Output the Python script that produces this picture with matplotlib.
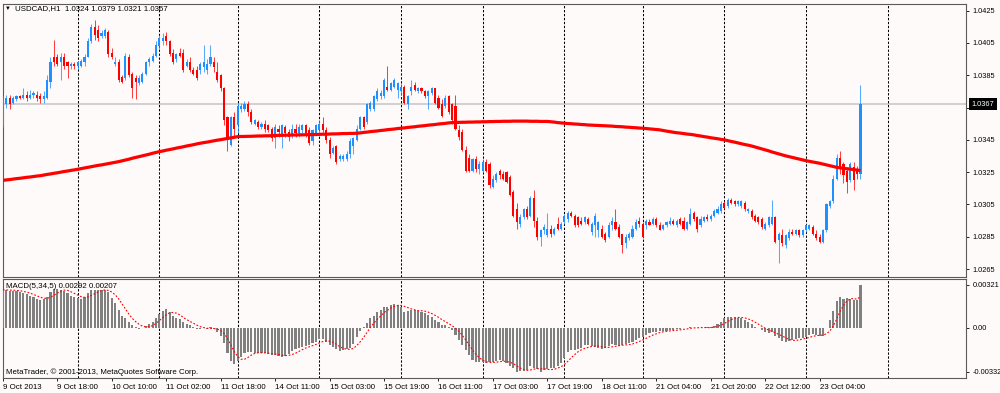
import matplotlib
matplotlib.use("Agg")
import matplotlib.pyplot as plt
import numpy as np
import pandas as pd

plt.rcParams['font.family'] = ['Liberation Sans', 'DejaVu Sans']

# ---------------- data ----------------
symbol_title = "USDCAD,H1  1.0324 1.0379 1.0321 1.0367"
macd_title = "MACD(5,34,5) 0.00292 0.00207"
copyright_text = "MetaTrader, \u00a9 2001-2013, MetaQuotes Software Corp."

date_labels = ["9 Oct 2013", "9 Oct 18:00", "10 Oct 10:00", "11 Oct 02:00", "11 Oct 18:00",
               "14 Oct 11:00", "15 Oct 03:00", "15 Oct 19:00", "16 Oct 11:00", "17 Oct 03:00",
               "17 Oct 19:00", "18 Oct 11:00", "21 Oct 04:00", "21 Oct 20:00", "22 Oct 12:00",
               "23 Oct 04:00"]
bars_per_label = 16
day_start_bars = [22, 46, 69, 93, 117, 141, 165, 188, 212, 236, 260]
price_ticks = [1.0425, 1.0405, 1.0385, 1.0365, 1.0345, 1.0325, 1.0305, 1.0285, 1.0265]
current_price = 1.0367
macd_ticks = [0.00321, 0.0, -0.00332]
macd_tick_labels = ["0.00321", "0.00", "-0.00332"]

opens = [
    1.0354, 1.0367, 1.0371, 1.0368, 1.0370, 1.0372, 1.0371, 1.0373, 1.0371, 1.0373,
    1.0373, 1.0372, 1.0370, 1.0371, 1.0381, 1.0396, 1.0396, 1.0393, 1.0396, 1.0393,
    1.0391, 1.0392, 1.0391, 1.0391, 1.0393, 1.0396, 1.0406, 1.0415, 1.0413, 1.0409,
    1.0409, 1.0412, 1.0399, 1.0392, 1.0393, 1.0384, 1.0383, 1.0396, 1.0386, 1.0383,
    1.0380, 1.0381, 1.0386, 1.0393, 1.0394, 1.0397, 1.0403, 1.0406, 1.0409, 1.0406,
    1.0399, 1.0395, 1.0399, 1.0399, 1.0391, 1.0393, 1.0388, 1.0388, 1.0388, 1.0390,
    1.0388, 1.0392, 1.0393, 1.0387, 1.0385, 1.0377, 1.0359, 1.0342, 1.0359, 1.0354,
    1.0364, 1.0364, 1.0367, 1.0362, 1.0355, 1.0356, 1.0353, 1.0355, 1.0354, 1.0352,
    1.0346, 1.0352, 1.0347, 1.0353, 1.0350, 1.0348, 1.0352, 1.0349, 1.0351, 1.0354,
    1.0351, 1.0344, 1.0349, 1.0351, 1.0355, 1.0351, 1.0345, 1.0337, 1.0341, 1.0333,
    1.0333, 1.0333, 1.0336, 1.0341, 1.0345, 1.0352, 1.0359, 1.0356, 1.0364, 1.0364,
    1.0370, 1.0372, 1.0372, 1.0378, 1.0376, 1.0378, 1.0376, 1.0375, 1.0378, 1.0367,
    1.0375, 1.0379, 1.0375, 1.0377, 1.0375, 1.0372, 1.0374, 1.0377, 1.0371, 1.0367,
    1.0366, 1.0372, 1.0367, 1.0366, 1.0351, 1.0350, 1.0339, 1.0334, 1.0326, 1.0333,
    1.0327, 1.0326, 1.0331, 1.0330, 1.0316, 1.0320, 1.0326, 1.0324, 1.0325, 1.0322,
    1.0313, 1.0302, 1.0293, 1.0297, 1.0302, 1.0298, 1.0309, 1.0295, 1.0285, 1.0289,
    1.0286, 1.0290, 1.0287, 1.0293, 1.0290, 1.0294, 1.0296, 1.0300, 1.0298, 1.0297,
    1.0295, 1.0294, 1.0296, 1.0288, 1.0292, 1.0289, 1.0290, 1.0287, 1.0285, 1.0292,
    1.0294, 1.0291, 1.0287, 1.0281, 1.0284, 1.0285, 1.0290, 1.0295, 1.0293, 1.0292,
    1.0294, 1.0293, 1.0296, 1.0292, 1.0290, 1.0292, 1.0293, 1.0295, 1.0292, 1.0296,
    1.0295, 1.0290, 1.0293, 1.0300, 1.0297, 1.0292, 1.0295, 1.0297, 1.0296, 1.0298,
    1.0300, 1.0301, 1.0306, 1.0304, 1.0308, 1.0307, 1.0305, 1.0304, 1.0306, 1.0301,
    1.0301, 1.0298, 1.0297, 1.0296, 1.0290, 1.0292, 1.0293, 1.0297, 1.0283, 1.0286,
    1.0280, 1.0284, 1.0288, 1.0287, 1.0289, 1.0286, 1.0289, 1.0290, 1.0291, 1.0287,
    1.0285, 1.0282, 1.0289, 1.0304, 1.0307, 1.0321, 1.0334, 1.0330, 1.0326, 1.0320,
    1.0328, 1.0326, 1.0324]

highs = [
    1.0372, 1.0373, 1.0373, 1.0372, 1.0373, 1.0373, 1.0377, 1.0375, 1.0376, 1.0375,
    1.0375, 1.0374, 1.0375, 1.0385, 1.0396, 1.0407, 1.0398, 1.0399, 1.0399, 1.0394,
    1.0393, 1.0393, 1.0394, 1.0395, 1.0398, 1.0408, 1.0417, 1.0419, 1.0416, 1.0413,
    1.0414, 1.0413, 1.0402, 1.0396, 1.0395, 1.0385, 1.0399, 1.0398, 1.0387, 1.0385,
    1.0385, 1.0387, 1.0394, 1.0396, 1.0399, 1.0406, 1.0410, 1.0411, 1.0412, 1.0407,
    1.0401, 1.0399, 1.0402, 1.0401, 1.0395, 1.0396, 1.0390, 1.0391, 1.0393, 1.0404,
    1.0395, 1.0404, 1.0396, 1.0393, 1.0386, 1.0378, 1.0360, 1.0360, 1.0362, 1.0368,
    1.0368, 1.0369, 1.0369, 1.0364, 1.0358, 1.0357, 1.0356, 1.0357, 1.0355, 1.0353,
    1.0355, 1.0354, 1.0355, 1.0354, 1.0352, 1.0355, 1.0355, 1.0355, 1.0355, 1.0355,
    1.0353, 1.0352, 1.0355, 1.0357, 1.0359, 1.0353, 1.0347, 1.0341, 1.0342, 1.0336,
    1.0336, 1.0338, 1.0346, 1.0347, 1.0354, 1.0360, 1.0360, 1.0368, 1.0369, 1.0373,
    1.0377, 1.0376, 1.0383, 1.0391, 1.0381, 1.0383, 1.0381, 1.0380, 1.0379, 1.0373,
    1.0382, 1.0381, 1.0378, 1.0378, 1.0376, 1.0376, 1.0378, 1.0377, 1.0373, 1.0370,
    1.0373, 1.0373, 1.0368, 1.0373, 1.0354, 1.0352, 1.0341, 1.0336, 1.0334, 1.0335,
    1.0332, 1.0333, 1.0333, 1.0331, 1.0323, 1.0325, 1.0327, 1.0326, 1.0326, 1.0323,
    1.0314, 1.0306, 1.0299, 1.0303, 1.0304, 1.0310, 1.0314, 1.0297, 1.0290, 1.0293,
    1.0300, 1.0292, 1.0291, 1.0297, 1.0294, 1.0299, 1.0301, 1.0301, 1.0299, 1.0298,
    1.0297, 1.0298, 1.0297, 1.0294, 1.0300, 1.0295, 1.0292, 1.0288, 1.0294, 1.0297,
    1.0302, 1.0293, 1.0287, 1.0287, 1.0288, 1.0292, 1.0296, 1.0297, 1.0294, 1.0296,
    1.0296, 1.0297, 1.0297, 1.0294, 1.0293, 1.0295, 1.0297, 1.0296, 1.0296, 1.0297,
    1.0297, 1.0295, 1.0303, 1.0301, 1.0298, 1.0298, 1.0298, 1.0299, 1.0299, 1.0302,
    1.0304, 1.0307, 1.0307, 1.0309, 1.0309, 1.0308, 1.0308, 1.0308, 1.0307, 1.0303,
    1.0302, 1.0299, 1.0298, 1.0297, 1.0294, 1.0298, 1.0308, 1.0298, 1.0288, 1.0290,
    1.0287, 1.0290, 1.0290, 1.0290, 1.0290, 1.0290, 1.0293, 1.0293, 1.0292, 1.0289,
    1.0287, 1.0290, 1.0306, 1.0308, 1.0323, 1.0336, 1.0338, 1.0331, 1.0328, 1.0331,
    1.0331, 1.0329, 1.0379]

lows = [
    1.0353, 1.0365, 1.0364, 1.0367, 1.0369, 1.0370, 1.0370, 1.0369, 1.0370, 1.0371,
    1.0369, 1.0368, 1.0368, 1.0370, 1.0377, 1.0391, 1.0391, 1.0382, 1.0389, 1.0383,
    1.0389, 1.0389, 1.0389, 1.0390, 1.0391, 1.0396, 1.0405, 1.0407, 1.0406, 1.0408,
    1.0408, 1.0396, 1.0395, 1.0391, 1.0381, 1.0380, 1.0382, 1.0384, 1.0371, 1.0370,
    1.0379, 1.0380, 1.0385, 1.0391, 1.0393, 1.0396, 1.0401, 1.0404, 1.0404, 1.0397,
    1.0392, 1.0393, 1.0396, 1.0387, 1.0390, 1.0387, 1.0385, 1.0382, 1.0386, 1.0387,
    1.0386, 1.0391, 1.0387, 1.0381, 1.0375, 1.0354, 1.0338, 1.0341, 1.0346, 1.0349,
    1.0362, 1.0363, 1.0360, 1.0355, 1.0354, 1.0352, 1.0352, 1.0350, 1.0350, 1.0344,
    1.0340, 1.0347, 1.0340, 1.0347, 1.0344, 1.0346, 1.0347, 1.0347, 1.0349, 1.0347,
    1.0342, 1.0342, 1.0348, 1.0350, 1.0350, 1.0343, 1.0334, 1.0336, 1.0330, 1.0332,
    1.0332, 1.0332, 1.0334, 1.0336, 1.0344, 1.0351, 1.0352, 1.0355, 1.0363, 1.0363,
    1.0369, 1.0370, 1.0371, 1.0375, 1.0375, 1.0377, 1.0371, 1.0373, 1.0367, 1.0364,
    1.0373, 1.0375, 1.0374, 1.0374, 1.0371, 1.0364, 1.0373, 1.0367, 1.0364, 1.0359,
    1.0365, 1.0361, 1.0355, 1.0351, 1.0345, 1.0338, 1.0325, 1.0325, 1.0325, 1.0325,
    1.0324, 1.0325, 1.0325, 1.0315, 1.0315, 1.0319, 1.0321, 1.0320, 1.0318, 1.0310,
    1.0297, 1.0290, 1.0291, 1.0296, 1.0296, 1.0297, 1.0291, 1.0283, 1.0279, 1.0287,
    1.0285, 1.0285, 1.0286, 1.0289, 1.0289, 1.0293, 1.0294, 1.0297, 1.0291, 1.0291,
    1.0292, 1.0293, 1.0292, 1.0286, 1.0285, 1.0285, 1.0284, 1.0282, 1.0284, 1.0289,
    1.0289, 1.0284, 1.0275, 1.0278, 1.0283, 1.0284, 1.0289, 1.0291, 1.0284, 1.0290,
    1.0292, 1.0292, 1.0291, 1.0289, 1.0289, 1.0291, 1.0292, 1.0292, 1.0291, 1.0292,
    1.0289, 1.0289, 1.0292, 1.0295, 1.0288, 1.0291, 1.0294, 1.0295, 1.0295, 1.0297,
    1.0299, 1.0300, 1.0302, 1.0303, 1.0305, 1.0304, 1.0304, 1.0303, 1.0301, 1.0300,
    1.0296, 1.0294, 1.0293, 1.0290, 1.0289, 1.0291, 1.0292, 1.0281, 1.0269, 1.0279,
    1.0278, 1.0283, 1.0286, 1.0286, 1.0285, 1.0285, 1.0288, 1.0289, 1.0286, 1.0283,
    1.0281, 1.0281, 1.0288, 1.0303, 1.0306, 1.0320, 1.0324, 1.0318, 1.0312, 1.0319,
    1.0314, 1.0321, 1.0321]

closes = [
    1.0370, 1.0371, 1.0367, 1.0371, 1.0372, 1.0371, 1.0373, 1.0371, 1.0373, 1.0374,
    1.0371, 1.0370, 1.0372, 1.0382, 1.0393, 1.0393, 1.0392, 1.0396, 1.0391, 1.0391,
    1.0392, 1.0391, 1.0393, 1.0394, 1.0396, 1.0406, 1.0415, 1.0410, 1.0408, 1.0411,
    1.0413, 1.0398, 1.0396, 1.0393, 1.0382, 1.0381, 1.0397, 1.0385, 1.0377, 1.0381,
    1.0383, 1.0386, 1.0393, 1.0395, 1.0397, 1.0404, 1.0408, 1.0408, 1.0406, 1.0398,
    1.0393, 1.0398, 1.0397, 1.0388, 1.0393, 1.0388, 1.0386, 1.0383, 1.0392, 1.0393,
    1.0392, 1.0396, 1.0390, 1.0382, 1.0377, 1.0357, 1.0345, 1.0359, 1.0352, 1.0366,
    1.0366, 1.0367, 1.0362, 1.0356, 1.0357, 1.0353, 1.0355, 1.0352, 1.0351, 1.0346,
    1.0353, 1.0350, 1.0354, 1.0349, 1.0347, 1.0352, 1.0349, 1.0353, 1.0354, 1.0349,
    1.0343, 1.0351, 1.0354, 1.0355, 1.0351, 1.0345, 1.0336, 1.0340, 1.0331, 1.0335,
    1.0335, 1.0336, 1.0344, 1.0346, 1.0352, 1.0359, 1.0353, 1.0367, 1.0368, 1.0372,
    1.0375, 1.0374, 1.0382, 1.0376, 1.0380, 1.0382, 1.0380, 1.0378, 1.0368, 1.0372,
    1.0378, 1.0376, 1.0377, 1.0375, 1.0372, 1.0375, 1.0377, 1.0368, 1.0365, 1.0360,
    1.0371, 1.0362, 1.0357, 1.0352, 1.0347, 1.0339, 1.0326, 1.0326, 1.0333, 1.0327,
    1.0330, 1.0331, 1.0326, 1.0317, 1.0321, 1.0324, 1.0323, 1.0321, 1.0319, 1.0311,
    1.0298, 1.0294, 1.0297, 1.0302, 1.0297, 1.0309, 1.0295, 1.0285, 1.0289, 1.0291,
    1.0290, 1.0287, 1.0290, 1.0290, 1.0293, 1.0298, 1.0300, 1.0298, 1.0292, 1.0292,
    1.0293, 1.0297, 1.0293, 1.0293, 1.0298, 1.0294, 1.0285, 1.0283, 1.0292, 1.0295,
    1.0290, 1.0285, 1.0280, 1.0285, 1.0287, 1.0290, 1.0294, 1.0293, 1.0285, 1.0295,
    1.0292, 1.0296, 1.0292, 1.0289, 1.0292, 1.0294, 1.0295, 1.0293, 1.0295, 1.0293,
    1.0290, 1.0294, 1.0299, 1.0296, 1.0290, 1.0296, 1.0297, 1.0296, 1.0298, 1.0301,
    1.0302, 1.0305, 1.0303, 1.0308, 1.0306, 1.0305, 1.0307, 1.0307, 1.0302, 1.0302,
    1.0297, 1.0295, 1.0294, 1.0291, 1.0293, 1.0297, 1.0297, 1.0282, 1.0287, 1.0281,
    1.0286, 1.0288, 1.0287, 1.0289, 1.0286, 1.0289, 1.0292, 1.0292, 1.0287, 1.0284,
    1.0282, 1.0289, 1.0305, 1.0307, 1.0321, 1.0334, 1.0328, 1.0323, 1.0319, 1.0330,
    1.0320, 1.0324, 1.0367]

moving_average = [
    1.03199, 1.03202, 1.03204, 1.03207, 1.03210, 1.03212, 1.03215, 1.03218, 1.03220, 1.03223,
    1.03226, 1.03228, 1.03232, 1.03236, 1.03239, 1.03243, 1.03246, 1.03250, 1.03254, 1.03257,
    1.03261, 1.03264, 1.03268, 1.03272, 1.03276, 1.03280, 1.03284, 1.03288, 1.03292, 1.03295,
    1.03299, 1.03303, 1.03307, 1.03311, 1.03315, 1.03320, 1.03325, 1.03330, 1.03336, 1.03341,
    1.03346, 1.03351, 1.03356, 1.03361, 1.03367, 1.03372, 1.03377, 1.03381, 1.03386, 1.03390,
    1.03394, 1.03399, 1.03403, 1.03407, 1.03412, 1.03416, 1.03420, 1.03425, 1.03429, 1.03433,
    1.03436, 1.03440, 1.03444, 1.03448, 1.03451, 1.03455, 1.03459, 1.03462, 1.03466, 1.03470,
    1.03471, 1.03471, 1.03472, 1.03472, 1.03473, 1.03474, 1.03474, 1.03475, 1.03475, 1.03476,
    1.03477, 1.03478, 1.03478, 1.03479, 1.03479, 1.03480, 1.03480, 1.03481, 1.03481, 1.03482,
    1.03482, 1.03483, 1.03483, 1.03484, 1.03485, 1.03485, 1.03486, 1.03487, 1.03487, 1.03488,
    1.03489, 1.03489, 1.03490, 1.03490, 1.03491, 1.03493, 1.03496, 1.03498, 1.03501, 1.03503,
    1.03505, 1.03508, 1.03510, 1.03513, 1.03515, 1.03517, 1.03520, 1.03522, 1.03524, 1.03527,
    1.03529, 1.03531, 1.03534, 1.03536, 1.03538, 1.03541, 1.03543, 1.03545, 1.03548, 1.03550,
    1.03552, 1.03555, 1.03557, 1.03558, 1.03558, 1.03559, 1.03559, 1.03560, 1.03560, 1.03561,
    1.03561, 1.03562, 1.03562, 1.03563, 1.03563, 1.03564, 1.03564, 1.03565, 1.03565, 1.03565,
    1.03566, 1.03566, 1.03566, 1.03566, 1.03566, 1.03565, 1.03565, 1.03565, 1.03564, 1.03564,
    1.03564, 1.03562, 1.03560, 1.03557, 1.03555, 1.03553, 1.03551, 1.03550, 1.03548, 1.03547,
    1.03545, 1.03544, 1.03542, 1.03541, 1.03540, 1.03539, 1.03538, 1.03537, 1.03536, 1.03535,
    1.03533, 1.03532, 1.03531, 1.03529, 1.03528, 1.03526, 1.03525, 1.03523, 1.03522, 1.03520,
    1.03518, 1.03516, 1.03514, 1.03512, 1.03508, 1.03504, 1.03501, 1.03497, 1.03494, 1.03492,
    1.03489, 1.03486, 1.03484, 1.03481, 1.03477, 1.03474, 1.03470, 1.03467, 1.03463, 1.03460,
    1.03457, 1.03453, 1.03450, 1.03445, 1.03440, 1.03436, 1.03431, 1.03426, 1.03421, 1.03417,
    1.03412, 1.03406, 1.03400, 1.03394, 1.03388, 1.03382, 1.03375, 1.03369, 1.03363, 1.03357,
    1.03351, 1.03346, 1.03341, 1.03336, 1.03331, 1.03326, 1.03321, 1.03317, 1.03313, 1.03309,
    1.03305, 1.03300, 1.03295, 1.03290, 1.03285, 1.03280, 1.03277, 1.03274, 1.03271, 1.03269,
    1.03266, 1.03263, 1.03260]

macd_main = [
    0.00284, 0.00284, 0.00279, 0.00279, 0.00276, 0.00271, 0.00259, 0.00251, 0.00241, 0.00228,
    0.00216, 0.00208, 0.00216, 0.00233, 0.00271, 0.00291, 0.00291, 0.00284, 0.00276, 0.00259,
    0.00241, 0.00228, 0.00221, 0.00216, 0.00233, 0.00259, 0.00284, 0.00286, 0.00286, 0.00281,
    0.00281, 0.00266, 0.00226, 0.00183, 0.00133, 0.00090, 0.00070, 0.00040, 0.00020, 0.00008,
    -0.00008, -0.00005, 0.00015, 0.00028, 0.00045, 0.00075, 0.00103, 0.00126, 0.00138, 0.00115,
    0.00090, 0.00075, 0.00063, 0.00045, 0.00030, 0.00020, 0.00008, -0.00008, -0.00013, -0.00005,
    -0.00008, 0.00002, -0.00010, -0.00030, -0.00060, -0.00118, -0.00193, -0.00251, -0.00276, -0.00251,
    -0.00218, -0.00193, -0.00186, -0.00186, -0.00188, -0.00193, -0.00193, -0.00191, -0.00198, -0.00206,
    -0.00206, -0.00211, -0.00218, -0.00211, -0.00196, -0.00176, -0.00161, -0.00151, -0.00143, -0.00136,
    -0.00131, -0.00118, -0.00105, -0.00085, -0.00085, -0.00105, -0.00131, -0.00143, -0.00161, -0.00176,
    -0.00168, -0.00161, -0.00151, -0.00126, -0.00068, -0.00025, 0.00003, 0.00033, 0.00070, 0.00090,
    0.00115, 0.00133, 0.00158, 0.00158, 0.00171, 0.00178, 0.00171, 0.00158, 0.00120, 0.00126,
    0.00133, 0.00133, 0.00126, 0.00120, 0.00108, 0.00095, 0.00083, 0.00058, 0.00045, 0.00020,
    0.00020, 0.00008, -0.00018, -0.00055, -0.00093, -0.00131, -0.00168, -0.00206, -0.00243, -0.00256,
    -0.00261, -0.00261, -0.00269, -0.00261, -0.00256, -0.00251, -0.00245, -0.00251, -0.00269, -0.00286,
    -0.00301, -0.00332, -0.00330, -0.00326, -0.00319, -0.00286, -0.00301, -0.00311, -0.00331, -0.00319,
    -0.00311, -0.00306, -0.00301, -0.00286, -0.00269, -0.00226, -0.00186, -0.00168, -0.00168, -0.00161,
    -0.00151, -0.00131, -0.00131, -0.00136, -0.00143, -0.00151, -0.00161, -0.00151, -0.00136, -0.00126,
    -0.00131, -0.00136, -0.00131, -0.00126, -0.00118, -0.00105, -0.00093, -0.00080, -0.00068, -0.00055,
    -0.00043, -0.00035, -0.00030, -0.00025, -0.00025, -0.00025, -0.00018, -0.00018, -0.00013, -0.00010,
    -0.00005, -0.00005, 0.00008, 0.00001, -0.00005, 0.00001, 0.00001, 0.00002, 0.00003, 0.00013,
    0.00028, 0.00045, 0.00070, 0.00078, 0.00080, 0.00080, 0.00075, 0.00070, 0.00060, 0.00045,
    0.00025, 0.00008, -0.00005, -0.00018, -0.00035, -0.00043, -0.00035, -0.00060, -0.00080, -0.00100,
    -0.00105, -0.00098, -0.00093, -0.00085, -0.00080, -0.00075, -0.00068, -0.00055, -0.00050, -0.00055,
    -0.00060, -0.00060, -0.00005, 0.00058, 0.00126, 0.00201, 0.00233, 0.00216, 0.00221, 0.00216,
    0.00208, 0.00208, 0.00321]

# ---------------- style ----------------
BG = '#FFFAFA'
BULL = '#1E90FF'
BEAR = '#FF0000'
SPINE = '#5A5A5A'
FS = 5.7
FS_AXIS = 5.3
W, H = 1000, 393
LEFT_PX, RIGHT_PX = 2.5, 966

fig = plt.figure(figsize=(W / 100, H / 100), dpi=100, facecolor=BG)


def rect(l, t, r, b):
    return [l / W, 1 - b / H, (r - l) / W, (b - t) / H]


ax = fig.add_axes(rect(LEFT_PX, 4, RIGHT_PX, 277), facecolor=BG)
ax2 = fig.add_axes(rect(LEFT_PX, 279, RIGHT_PX, 378), facecolor=BG)

o = np.array(opens)
h = np.array(highs)
l = np.array(lows)
c = np.array(closes)
n = len(c)
xs = np.arange(n)
cols = np.where(c >= o, BULL, BEAR)

# current price line
ax.axhline(current_price, color='#CDCDCD', lw=1.3, zorder=1)

# day separators
for b in day_start_bars:
    for a in (ax, ax2):
        a.axvline(b, color='#000000', lw=0.75, dashes=(2.2, 1.6), zorder=2)

# candles
ax.vlines(xs, l, h, colors=cols, lw=0.75, zorder=3, alpha=0.75)
body = np.maximum(np.abs(c - o), 0.00005)
ax.bar(xs, body, bottom=np.minimum(o, c), width=0.62, color=cols, lw=0, zorder=4)

# moving average
ax.plot(xs, moving_average, color='#FF0000', lw=2.3, zorder=5, solid_capstyle='butt')

# MACD
m = pd.Series(macd_main)
signal = m.rolling(5, min_periods=1).mean()
ax2.bar(xs, m, width=0.62, color='#808080', lw=0, zorder=3)
ax2.plot(xs, signal, color='#FF0000', lw=0.8, dashes=(1.6, 1.6), zorder=4)

for a in (ax, ax2):
    a.set_xlim(-0.1, 283.0)
    for s in a.spines.values():
        s.set_color(SPINE)
        s.set_linewidth(0.8)
    a.yaxis.tick_right()
    a.tick_params(axis='y', direction='out', length=2.0, width=0.6, pad=2.8,
                  labelsize=FS_AXIS, colors='black')

ax.set_ylim(1.02601, 1.04291)
ax.set_yticks(price_ticks)
# the 1.0365 label sits under the current-price tag, so it is left blank
ax.set_yticklabels([f"{p:.4f}" if abs(p - current_price) > 0.0005 else "" for p in price_ticks])
ax.tick_params(axis='x', bottom=False, labelbottom=False)

ax2.set_ylim(-0.00379, 0.00366)
ax2.set_yticks(macd_ticks)
ax2.set_yticklabels(macd_tick_labels)
ax2.set_xticks(np.arange(len(date_labels)) * bars_per_label)
ax2.set_xticklabels(date_labels, ha='left')
ax2.tick_params(axis='x', direction='out', length=2, width=0.6, pad=2, labelsize=FS,
                colors='black')

# current price tag
ax.text(1.0 + 5.5 / (RIGHT_PX - LEFT_PX), current_price, f"{current_price:.4f}",
        transform=ax.get_yaxis_transform(), color='white', fontsize=FS_AXIS,
        va='center', ha='left', clip_on=False, zorder=10,
        bbox=dict(boxstyle='square,pad=0.35', fc='black', ec='black', lw=0))

# texts
fig.text(5 / W, 1 - 8.5 / H, "\u25bc", fontsize=4.2, va='center', ha='left', color='black')
fig.text(15 / W, 1 - 8.5 / H, symbol_title, fontsize=FS, va='center', ha='left', color='black')
fig.text(6 / W, 1 - 287 / H, macd_title, fontsize=FS, va='center', ha='left', color='black')
fig.text(6 / W, 1 - 372 / H, copyright_text, fontsize=FS, va='center', ha='left', color='black')

fig.savefig('out.png', dpi=100, facecolor=BG)
